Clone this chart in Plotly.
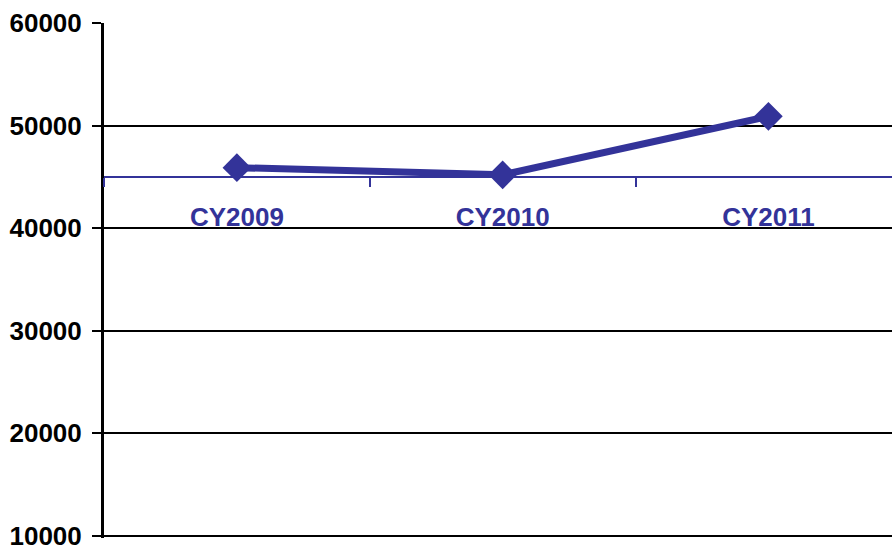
import plotly.graph_objects as go

categories = ["CY2009", "CY2010", "CY2011"]
values = [45900, 45200, 50900]
y_ticks = [10000, 20000, 30000, 40000, 50000, 60000]
y_tick_labels = ["10000", "20000", "30000", "40000", "50000", "60000"]
axis_cross = 45000

BLUE = "#333399"

fig = go.Figure()
fig.add_trace(go.Scatter(
    x=categories, y=values, mode="lines+markers",
    line=dict(color=BLUE, width=7),
    marker=dict(symbol="diamond", size=22, color=BLUE),
    showlegend=False, cliponaxis=False,
))

ymin = 9800
ymax = y_ticks[-1]
fig.update_layout(
    width=892, height=546,
    margin=dict(l=104, r=0, t=23, b=8),
    paper_bgcolor="white", plot_bgcolor="white",
    font=dict(family="Liberation Sans, Arial, sans-serif"),
    xaxis=dict(
        type="category", range=[-0.5, 2.465], automargin=False,
        anchor="free", position=(axis_cross - ymin) / (ymax - ymin),
        showline=True, linecolor=BLUE, linewidth=1.5,
        ticks="outside", tickson="boundaries", ticklen=9, tickcolor=BLUE, tickwidth=1.5,
        tickfont=dict(size=26, color=BLUE, weight="bold"),
        ticklabelstandoff=17,
        showgrid=False, zeroline=False,
    ),
    yaxis=dict(
        range=[ymin, ymax], tickvals=y_ticks, ticktext=y_tick_labels, automargin=False,
        showline=True, linecolor="black", linewidth=3,
        ticks="outside", ticklen=9, tickcolor="black", tickwidth=2,
        tickfont=dict(size=26, color="black", weight="bold"),
        ticklabelstandoff=5, ticklabeloverflow="allow",
        showgrid=True, gridcolor="black", gridwidth=2,
        zeroline=False,
    ),
)

fig.write_html(
    "out.html",
    config={"responsive": False, "displayModeBar": False},
    post_script="document.body.style.margin='0';document.body.style.overflow='hidden';",
)
